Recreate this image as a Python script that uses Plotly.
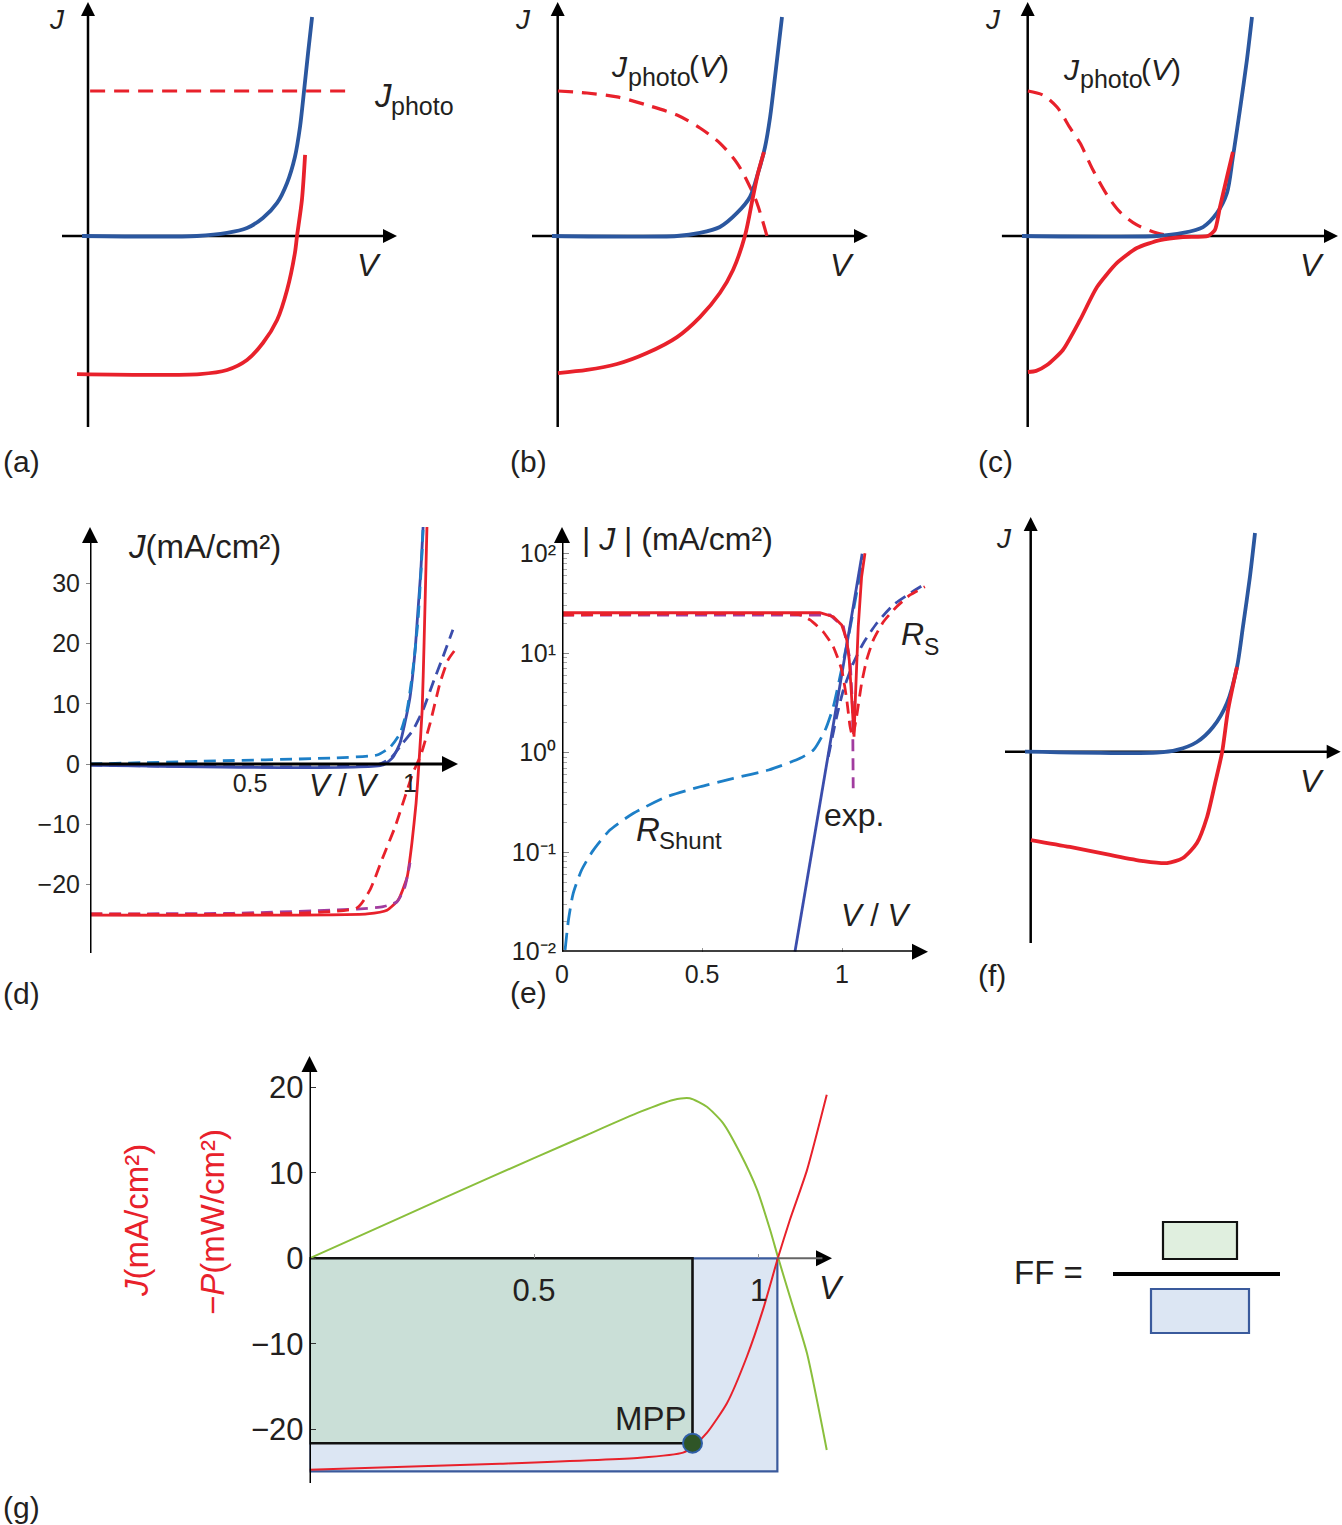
import plotly.graph_objects as go

W, H = 1342, 1525
FONT = "Liberation Sans, Arial, Helvetica, sans-serif"
INK = "#231f20"
RED, NAVY, INDIGO, SKY, PURPLE, GREEN = "#e8212b", "#2b579f", "#3b4dac", "#1d7fc7", "#a13c9f", "#8abf3c"

# ======================= DATA =======================
# (a) constant photocurrent (arbitrary units: J_photo = 1)
a_jph_v = [0.01, 1.226]
a_jph_j = [1.0, 1.0]
a_dark_v = [-0.028, 0.514, 0.656, 0.750, 0.825, 0.892, 0.939, 0.976, 1.000, 1.019, 1.038, 1.057]
a_dark_j = [0.0, 0.0, 0.021, 0.055, 0.124, 0.228, 0.366, 0.545, 0.752, 1.000, 1.262, 1.510]
a_light_v = [-0.052, 0.528, 0.656, 0.750, 0.825, 0.892, 0.939, 0.976, 0.986, 1.009, 1.024]
a_light_j = [-0.952, -0.952, -0.924, -0.855, -0.738, -0.579, -0.372, -0.117, 0.0, 0.248, 0.559]

# (b) voltage-dependent photocurrent
b_jph_v = [0.001, 0.138, 0.280, 0.421, 0.563, 0.671, 0.765, 0.846, 0.898, 0.940, 0.987]
b_jph_j = [1.0, 0.986, 0.959, 0.903, 0.834, 0.745, 0.641, 0.503, 0.366, 0.228, 0.0]
b_dark_v = [-0.027, 0.563, 0.671, 0.765, 0.846, 0.907, 0.945, 0.978, 1.002, 1.025, 1.058]
b_dark_j = [0.0, 0.0, 0.021, 0.062, 0.159, 0.269, 0.434, 0.614, 0.821, 1.097, 1.510]
b_light_v = [0.001, 0.138, 0.280, 0.421, 0.563, 0.671, 0.765, 0.827, 0.883, 0.921, 0.945, 0.973]
b_light_j = [-0.945, -0.924, -0.883, -0.807, -0.697, -0.559, -0.393, -0.234, 0.0, 0.269, 0.434, 0.579]

# (c) strongly voltage-dependent photocurrent (S-shape)
c_jph_v = [0.001, 0.072, 0.138, 0.200, 0.247, 0.308, 0.374, 0.435, 0.515, 0.610, 0.685]
c_jph_j = [1.0, 0.972, 0.890, 0.745, 0.641, 0.455, 0.283, 0.166, 0.076, 0.021, 0.0]
c_dark_v = [-0.027, 0.610, 0.732, 0.827, 0.893, 0.940, 0.968, 1.001, 1.034, 1.058]
c_dark_j = [0.0, 0.0, 0.021, 0.062, 0.159, 0.297, 0.545, 0.869, 1.214, 1.510]
c_light_v = [0.001, 0.040, 0.091, 0.166, 0.247, 0.327, 0.421, 0.515, 0.624, 0.732, 0.850, 0.883, 0.907, 0.940, 0.968]
c_light_j = [-0.938, -0.930, -0.890, -0.786, -0.579, -0.352, -0.186, -0.083, -0.028, -0.007, 0.0, 0.041, 0.200, 0.407, 0.579]

# (d) J-V curves, mA/cm^2 vs V
d_dark_v = [0.0, 0.916, 0.947, 0.969, 0.984, 1.000, 1.016, 1.025, 1.034, 1.041]
d_dark_j = [-0.17, -0.17, 1.16, 3.49, 6.81, 11.1, 18.9, 25.6, 32.2, 39.4]
d_shunt_v = [0.0, 0.344, 0.759, 0.897, 0.938, 0.969, 0.991, 1.009, 1.025, 1.038, 1.041]
d_shunt_j = [0.0, 0.45, 1.0, 1.5, 2.8, 5.1, 9.0, 15.6, 23.9, 35.5, 39.4]
d_rsdark_v = [0.0, 0.900, 0.940, 0.978, 1.009, 1.041, 1.072, 1.103, 1.134]
d_rsdark_j = [-0.2, -0.1, 1.0, 3.5, 5.6, 9.0, 13.5, 17.8, 22.3]
d_light_v = [0.0, 0.866, 0.928, 0.963, 0.991, 1.006, 1.019, 1.028, 1.038, 1.044, 1.053]
d_light_j = [-25.1, -24.9, -24.3, -22.6, -18.8, -13.1, -6.5, 0.2, 9.0, 20.1, 39.4]
d_field_v = [0.0, 0.447, 0.834, 0.916, 0.959, 0.984, 1.000]
d_field_j = [-24.9, -24.8, -24.1, -23.7, -22.9, -20.4, -16.4]
d_rslight_v = [0.0, 0.834, 0.875, 0.916, 0.953, 0.984, 1.009, 1.034, 1.063, 1.094, 1.119, 1.140]
d_rslight_j = [-24.9, -23.9, -20.9, -15.4, -10.5, -5.5, -1.5, 1.5, 6.8, 13.5, 17.3, 18.9]
d_xticks = [0.5, 1]
d_yticks = [-20, -10, 0, 10, 20, 30]

# (e) |J| on log scale
e_light_v = [0.0, 0.921, 0.969, 0.999, 1.017, 1.026, 1.032, 1.038, 1.043, 1.048, 1.058, 1.070, 1.082]
e_light_j = [25.5, 25.5, 23.3, 19.2, 13.6, 8.5, 4.6, 2.3, 1.45, 3.66, 18.5, 58.7, 101.0]
e_field_v = [0.0, 0.957, 1.005, 1.029, 1.038, 1.040]
e_field_j = [24.2, 24.2, 18.5, 8.5, 2.7, 0.44]
e_rslight_v = [0.0, 0.850, 0.886, 0.933, 0.969, 0.999, 1.017, 1.029, 1.038, 1.052, 1.070, 1.088, 1.112, 1.148, 1.195, 1.243, 1.296]
e_rslight_j = [24.2, 24.2, 21.6, 16.4, 11.6, 6.8, 3.4, 1.82, 1.45, 2.3, 4.98, 8.55, 13.6, 20.7, 29.3, 38.5, 46.6]
e_rsdark_v = [0.951, 0.981, 1.005, 1.040, 1.076, 1.124, 1.183, 1.243, 1.296]
e_rsdark_j = [0.91, 2.3, 4.27, 7.9, 12.6, 20.0, 30.5, 40.0, 49.5]
e_shunt_v = [0.011, 0.023, 0.040, 0.070, 0.112, 0.171, 0.255, 0.374, 0.493, 0.612, 0.738, 0.850, 0.898,
             0.940, 0.969, 0.993, 1.023, 1.052, 1.076]
e_shunt_j = [0.0104, 0.0208, 0.0386, 0.0662, 0.105, 0.167, 0.246, 0.361, 0.455, 0.553, 0.670, 0.879, 1.064,
             1.69, 2.90, 5.81, 14.7, 40.0, 93.3]
e_exp_v = [0.832, 1.072]
e_exp_j = [0.01, 100.0]
e_xticks = [0, 0.5, 1]
e_yticks = [0.01, 0.1, 1, 10, 100]
e_yticktext = ["10\u207b\u00b2", "10\u207b\u00b9", "10\u2070", "10\u00b9", "10\u00b2"]
e_minor = [m * d for d in (0.01, 0.1, 1, 10) for m in range(2, 10)]

# (f) photocurrent increasing with reverse bias
f_dark_v = [-0.027, 0.596, 0.690, 0.784, 0.860, 0.926, 0.973, 1.001, 1.034, 1.058]
f_dark_j = [0.0, -0.007, 0.012, 0.067, 0.170, 0.336, 0.584, 0.860, 1.205, 1.508]
f_light_v = [0.001, 0.185, 0.374, 0.530, 0.643, 0.718, 0.784, 0.832, 0.870, 0.903, 0.931, 0.973]
f_light_j = [-0.609, -0.657, -0.712, -0.754, -0.768, -0.733, -0.630, -0.450, -0.216, -0.002, 0.288, 0.584]

# (g) J and -P vs V, fill factor
g_v = [0.0, 0.424, 0.736, 0.832, 0.854, 0.885, 0.930, 0.974, 1.010, 1.043, 1.070, 1.108, 1.152]
g_j = [-24.7, -24.0, -23.3, -22.7, -22.0, -20.4, -16.9, -11.5, -6.0, 0.0, 4.5, 10.3, 19.1]
g_pv = [0.0, 0.2, 0.4, 0.6, 0.736, 0.810, 0.847, 0.885, 0.921, 0.959, 0.997, 1.026, 1.043, 1.070, 1.108, 1.152]
g_p = [0.0, 4.7, 9.4, 14.0, 17.1, 18.5, 18.7, 17.7, 15.8, 12.3, 8.0, 3.3, 0.2, -4.5, -11.1, -22.4]
V_OC, J_SC = 1.042, -24.9
V_MPP, J_MPP = 0.853, -21.6
g_xticks = [0.5, 1]
g_yticks = [-20, -10, 0, 10, 20]

# ======================= GEOMETRY (pixel layout) =======================
# suffix, box (l, t, r, b) px, origin px, scale px/unit
PANELS = {
    "a": ("", (62, 2, 397, 427), (88.0, 236.0), (212.0, 145.0)),
    "b": ("2", (532, 2, 868, 427), (557.7, 236.0), (212.0, 145.0)),
    "c": ("3", (1001.7, 2, 1338, 427), (1027.7, 236.0), (212.0, 145.0)),
    "d": ("4", (90, 527, 458, 953), (90.0, 764.0), (320.0, 6.02)),
    "e": ("5", (562, 527, 928, 951.7), (562.0, 752.7), (280.0, 99.5)),
    "f": ("6", (1005, 517, 1340.7, 943), (1030.7, 751.7), (212.0, 145.0)),
    "g": ("7", (309.5, 1056, 832, 1483), (309.5, 1258.3), (449.0, 8.56)),
}

layout = dict(
    width=W, height=H, margin=dict(l=0, r=0, t=0, b=0, autoexpand=False),
    paper_bgcolor="white", plot_bgcolor="rgba(0,0,0,0)", showlegend=False,
    font=dict(family=FONT, color=INK, size=22),
)
RANGES = {}
for key, (s, (l, t, r, b), (ox, oy), (sx, sy)) in PANELS.items():
    xr = [(l - ox) / sx, (r - ox) / sx]
    yr = [(oy - b) / sy, (oy - t) / sy]
    RANGES[key] = (xr, yr)
    layout["xaxis" + s] = dict(domain=[l / W, r / W], range=xr, visible=False, showgrid=False,
                               zeroline=False, fixedrange=True, anchor="y" + s)
    layout["yaxis" + s] = dict(domain=[1 - b / H, 1 - t / H], range=yr, visible=False, showgrid=False,
                               zeroline=False, fixedrange=True, anchor="x" + s)
layout["yaxis5"]["type"] = "log"

tick_common = dict(visible=True, showline=False, showgrid=False, zeroline=False, anchor="free")
layout["xaxis4"].update(tick_common, position=1 - 764 / H, tickvals=d_xticks, ticktext=["0.5", "1"],
                        ticks="", tickfont=dict(size=25), ticklabelstandoff=2)
layout["yaxis4"].update(tick_common, position=90 / W, tickvals=d_yticks, ticks="outside", ticklen=4,
                        tickcolor="#888", tickfont=dict(size=25), ticklabelstandoff=1)
layout["xaxis5"].update(tick_common, position=1 - 951.7 / H, tickvals=e_xticks, ticktext=["0", "0.5", "1"],
                        ticks="inside", ticklen=4, tickcolor="#999", tickfont=dict(size=25), ticklabelstandoff=5)
layout["yaxis5"].update(tick_common, position=562 / W, tickvals=e_yticks, ticktext=e_yticktext,
                        ticks="inside", ticklen=6, tickcolor="#888", tickfont=dict(size=25), ticklabelstandoff=6,
                        minor=dict(ticks="inside", ticklen=4, tickcolor="#aaa", tickvals=e_minor, showgrid=False))
layout["xaxis7"].update(tick_common, position=1 - 1258.3 / H, tickvals=g_xticks, ticktext=["0.5", "1"],
                        ticks="inside", ticklen=4, tickcolor="#999", tickfont=dict(size=31), ticklabelstandoff=11)
layout["yaxis7"].update(tick_common, position=309.5 / W, tickvals=g_yticks, ticks="inside", ticklen=5,
                        tickcolor="#333", tickfont=dict(size=31), ticklabelstandoff=6)

fig = go.Figure(layout=layout)


def curve(x, y, key, color, width, dash="solid", shape="spline", smoothing=0.8):
    s = PANELS[key][0]
    fig.add_trace(go.Scatter(
        x=x, y=y, mode="lines", xaxis="x" + s, yaxis="y" + s, hoverinfo="skip",
        line=dict(color=color, width=width, dash=dash, shape=shape,
                  smoothing=smoothing if shape == "spline" else None)))


DASH_A = "15px,9px"
DASH_D = "12px,7px"

# ---------- rectangles for fill factor (panel g) ----------
shapes = [
    dict(type="rect", xref="x7", yref="y7", x0=0, x1=V_OC, y0=0, y1=J_SC, layer="below",
         fillcolor="#dce6f3", line=dict(color="#3a5a9c", width=2.2)),
    dict(type="rect", xref="x7", yref="y7", x0=0, x1=V_MPP, y0=0, y1=J_MPP, layer="below",
         fillcolor="#cadfd7", line=dict(color="#111111", width=2.6)),
]


def axis_arrows(key, x_at_y, y_at_x, xstart, width, head, layer, xcolor="black", ylog=False):
    """Axis lines as shapes, arrow heads as markers at the axis ends."""
    s = PANELS[key][0]
    sx, sy = PANELS[key][3]
    xr, yr = RANGES[key]
    conv = (lambda v: 10 ** v) if ylog else (lambda v: v)
    back = head * 0.6
    shapes.append(dict(type="line", xref="x" + s, yref="y" + s, x0=xstart, x1=xr[1] - back / sx,
                       y0=conv(x_at_y), y1=conv(x_at_y), layer=layer, line=dict(color=xcolor, width=width)))
    shapes.append(dict(type="line", xref="x" + s, yref="y" + s, x0=y_at_x, x1=y_at_x, y0=conv(yr[0]),
                       y1=conv(yr[1] - back / sy), layer=layer, line=dict(color="black", width=width)))
    fig.add_trace(go.Scatter(
        x=[xr[1], y_at_x], y=[conv(x_at_y), conv(yr[1])], mode="markers", xaxis="x" + s, yaxis="y" + s,
        hoverinfo="skip", cliponaxis=False,
        marker=dict(symbol=["arrow-right", "arrow-up"], size=head, color="black", line=dict(width=0))))


# ---------- curves ----------
# (a)
curve(a_jph_v, a_jph_j, "a", RED, 3.2, DASH_A, "linear")
curve(a_dark_v, a_dark_j, "a", NAVY, 3.8)
curve(a_light_v, a_light_j, "a", RED, 3.8)
# (b)
curve(b_jph_v, b_jph_j, "b", RED, 3.2, DASH_A)
curve(b_dark_v, b_dark_j, "b", NAVY, 3.8)
curve(b_light_v, b_light_j, "b", RED, 3.8)
# (c)
curve(c_jph_v, c_jph_j, "c", RED, 3.2, DASH_A)
curve(c_dark_v, c_dark_j, "c", NAVY, 3.8)
curve(c_light_v, c_light_j, "c", RED, 3.8, smoothing=0.6)
# (d)
curve(d_dark_v, d_dark_j, "d", INDIGO, 2.8, smoothing=0.5)
curve(d_shunt_v, d_shunt_j, "d", SKY, 2.8, DASH_D, smoothing=0.5)
curve(d_rsdark_v, d_rsdark_j, "d", INDIGO, 2.8, DASH_D, smoothing=0.5)
curve(d_light_v, d_light_j, "d", RED, 2.8, smoothing=0.5)
curve(d_field_v, d_field_j, "d", PURPLE, 2.8, DASH_D, smoothing=0.5)
curve(d_rslight_v, d_rslight_j, "d", RED, 2.8, DASH_D, smoothing=0.5)
# (e)
curve(e_shunt_v, e_shunt_j, "e", SKY, 2.8, "17px,8px", smoothing=0.6)
curve(e_exp_v, e_exp_j, "e", INDIGO, 2.8, shape="linear")
curve(e_rsdark_v, e_rsdark_j, "e", INDIGO, 2.8, DASH_D, smoothing=0.6)
curve(e_field_v, e_field_j, "e", PURPLE, 2.8, DASH_D, shape="linear")
curve(e_rslight_v, e_rslight_j, "e", RED, 2.8, DASH_D, smoothing=0.5)
curve(e_light_v, e_light_j, "e", RED, 2.8, shape="linear")
# (f)
curve(f_dark_v, f_dark_j, "f", NAVY, 3.8)
curve(f_light_v, f_light_j, "f", RED, 3.8, smoothing=0.7)
# (g)
curve(g_pv, g_p, "g", GREEN, 2.0, smoothing=0.6)
curve(g_v, g_j, "g", RED, 2.0, smoothing=0.6)
fig.add_trace(go.Scatter(x=[V_MPP], y=[J_MPP], mode="markers", xaxis="x7", yaxis="y7", hoverinfo="skip",
                         marker=dict(size=19, color="#2f5527", line=dict(color="#2f5fa8", width=2))))

# ---------- axes with arrow heads ----------
for k in ("a", "b", "c", "f"):
    axis_arrows(k, 0, 0, RANGES[k][0][0], 2.5, 14, "below")
axis_arrows("d", 0, 0, 0, 3.0, 16, "above")
axis_arrows("e", RANGES["e"][1][0], 0, 0, 3.0, 16, "above", ylog=True)
axis_arrows("g", 0, 0, V_OC, 2.0, 16, "above", xcolor="#666666")
shapes[-1]["line"]["width"] = 3.0

annotations = []


def txt(s, xpx, ypx, size, color=INK, xanchor="center", yanchor="middle", angle=0):
    annotations.append(dict(text=s, x=xpx / W, y=1 - ypx / H, xref="paper", yref="paper", showarrow=False,
                            xanchor=xanchor, yanchor=yanchor, textangle=angle,
                            font=dict(family=FONT, size=size, color=color)))


# panel letters
for lab, xp, yp in (("(a)", 21, 462), ("(b)", 528, 462), ("(c)", 996, 462), ("(d)", 21, 993),
                    ("(e)", 528, 992), ("(f)", 992, 975), ("(g)", 21, 1507)):
    txt(lab, xp, yp, 30)

# (a)
txt("<i>J</i>", 57, 20, 28)
txt("<i>V</i>", 369, 265, 32)
txt("<i>J</i>", 372, 95, 33, xanchor="left")
txt("photo", 389, 106, 25, xanchor="left")
# (b)
txt("<i>J</i>", 609, 67, 30, xanchor="left")
txt("photo", 626, 77, 25, xanchor="left")
txt("(<i>V</i>)", 687, 67, 30, xanchor="left")
txt("<i>J</i>", 523, 20, 28)
txt("<i>V</i>", 842, 265, 32)
# (c)
txt("<i>J</i>", 1061, 69, 30, xanchor="left")
txt("photo", 1078, 79, 25, xanchor="left")
txt("(<i>V</i>)", 1139, 69, 30, xanchor="left")
txt("<i>J</i>", 993, 20, 28)
txt("<i>V</i>", 1312, 265, 32)
# (d)
txt("<i>J</i>(mA/cm\u00b2)", 126, 547, 33, xanchor="left")
txt("<i>V</i> / <i>V</i>", 344, 785, 31)
# (e)
txt("| <i>J</i> | (mA/cm\u00b2)", 580, 539, 32, xanchor="left")
txt("<i>R</i>", 899, 634, 32, xanchor="left")
txt("S", 922, 647, 23, xanchor="left")
txt("exp.", 854, 815, 32)
txt("<i>R</i>", 634, 829, 33, xanchor="left")
txt("Shunt", 657, 840, 24, xanchor="left")
txt("<i>V</i> / <i>V</i>", 876, 915, 31)
# (f)
txt("<i>J</i>", 1004, 538, 28)
txt("<i>V</i>", 1312, 781, 32)
# (g)
txt("<i>V</i>", 831, 1287, 33)
txt("MPP", 651, 1418, 33)
txt("<i>J</i>(mA/cm\u00b2)", 136, 1221, 33, color=RED, angle=-90)
txt("\u2212<i>P</i>(mW/cm\u00b2)", 212, 1222, 33, color=RED, angle=-90)
# fill factor equation
txt("FF =", 1048, 1272, 33)
shapes.append(dict(type="line", xref="paper", yref="paper", x0=1113 / W, x1=1280 / W, y0=1 - 1274 / H,
                   y1=1 - 1274 / H, line=dict(color="black", width=4)))
shapes.append(dict(type="rect", xref="paper", yref="paper", x0=1163 / W, x1=1237 / W, y0=1 - 1259 / H,
                   y1=1 - 1222 / H, fillcolor="#e0efdf", line=dict(color="#111111", width=2.2)))
shapes.append(dict(type="rect", xref="paper", yref="paper", x0=1151 / W, x1=1249 / W, y0=1 - 1333 / H,
                   y1=1 - 1289 / H, fillcolor="#dce6f3", line=dict(color="#3a5a9c", width=2.2)))

fig.update_layout(shapes=shapes, annotations=annotations)
fig.write_html("out.html", config={"displayModeBar": False, "staticPlot": True},
               post_script="document.body.style.margin='0px';")
